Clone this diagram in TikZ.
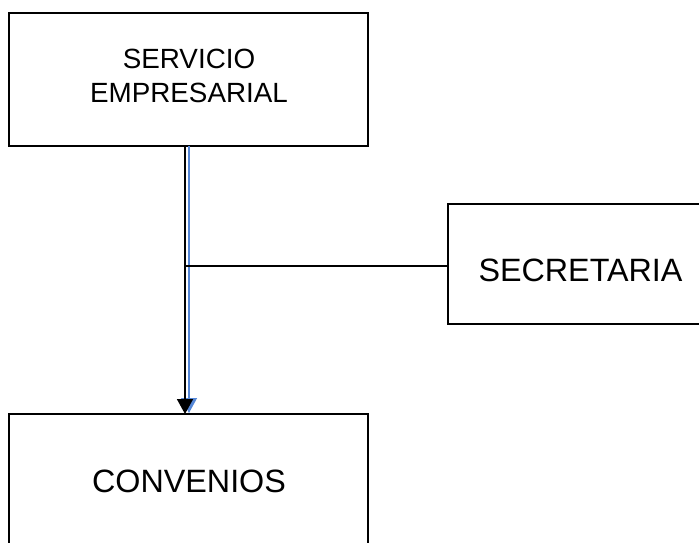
\documentclass[tikz,border=0pt]{standalone}
\usepackage{fontspec}
\setmainfont{Liberation Sans}
\usetikzlibrary{arrows.meta}
\definecolor{linkblue}{RGB}{85,135,215}
\tikzset{
  box/.style={draw=black, line width=1.4pt, inner sep=0pt, outer sep=0pt},
  txtbig/.style={inner sep=0pt, font=\fontsize{32.3}{36}\selectfont},
  txtsmall/.style={inner sep=0pt, align=center, font=\fontsize{27.8}{34}\selectfont},
  conn/.style={draw=black, line width=1.6pt},
  connblue/.style={draw=linkblue, line width=1.2pt},
  hline/.style={draw=black, line width=1.3pt}
}
\begin{document}
\begin{tikzpicture}[x=1pt,y=-1pt]
  \useasboundingbox (0,0) rectangle (699,542);
  % boxes
  \node[box, minimum width=359pt, minimum height=133pt] (top) at (188.5,79.5) {};
  \node[txtsmall] (toptxt) at (189,75.5) {SERVICIO\\EMPRESARIAL};
  \node[box, minimum width=265pt, minimum height=120pt] (sec) at (580.5,264) {};
  \node[txtbig] (sectxt) at (580.5,270.5) {SECRETARIA};
  \node[box, minimum width=359pt, minimum height=150pt] (conv) at (188.5,489) {};
  \node[txtbig] (convtxt) at (189,481.5) {CONVENIOS};
  % helper coordinates
  \coordinate (ax) at (185,0);
  \coordinate (bx) at (189,0);
  \coordinate (j) at (185,266);
  % connectors
  \draw[connblue, -{Triangle[length=15pt,width=16pt]}] (top.south -| bx) -- ([yshift=1pt]conv.north -| bx);
  \draw[conn, -{Triangle[length=15pt,width=16pt]}] (top.south -| ax) -- (conv.north -| ax);
  \draw[hline] (j) -- (j -| sec.west);
\end{tikzpicture}
\end{document}
